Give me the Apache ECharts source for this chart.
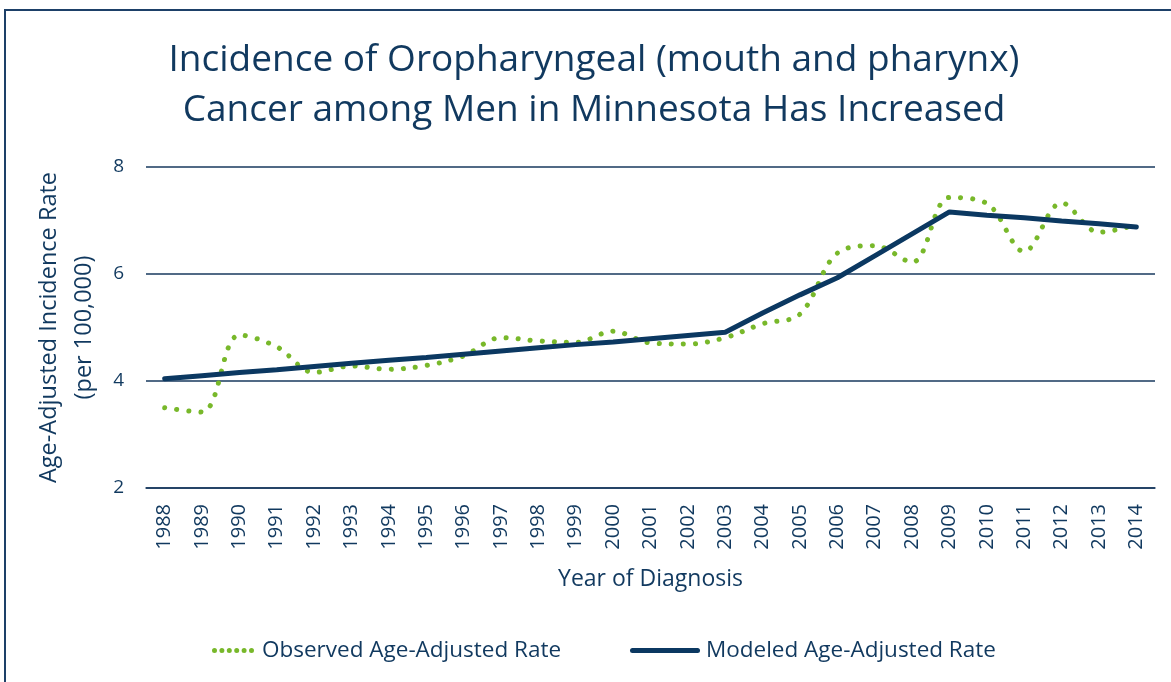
<!DOCTYPE html>
<html>
<head>
<meta charset="utf-8">
<script src="https://cdn.jsdelivr.net/npm/echarts@6/dist/echarts.min.js"></script>
<style>
  html, body { margin: 0; padding: 0; background: #fff; }
  #chart { width: 1171px; height: 682px; }
</style>
</head>
<body>
<div id="chart"></div>
<script>
// years on the x axis
var years = ['1988', '1989', '1990', '1991', '1992', '1993', '1994', '1995', '1996',
    '1997', '1998', '1999', '2000', '2001', '2002', '2003', '2004', '2005', '2006',
    '2007', '2008', '2009', '2010', '2011', '2012', '2013', '2014'];

// observed rate
var observed = [3.50, 3.42, 4.86, 4.64, 4.16, 4.28, 4.22, 4.29, 4.47,
    4.81, 4.75, 4.72, 4.93, 4.71, 4.69, 4.81, 5.07, 5.25, 6.39,
    6.53, 6.22, 7.43, 7.32, 6.42, 7.33, 6.78, 6.92];

// modeled rate (joinpoint segments)
var modeled = [4.04, 4.10, 4.16, 4.21, 4.27, 4.33, 4.39, 4.44, 4.50,
    4.56, 4.62, 4.68, 4.73, 4.79, 4.85, 4.91, 5.27, 5.61, 5.93,
    6.34, 6.75, 7.16, 7.10, 7.05, 6.99, 6.94, 6.88];

var yTicks = [2, 4, 6, 8];

var navy = '#11395f';
var green = '#78b82a';
var font = '"Open Sans", sans-serif';

// legend icons: a row of dots and a rounded bar
var dotIcon = 'path://M0,2.5a2.5,2.5 0 1,0 5,0a2.5,2.5 0 1,0 -5,0' +
    'M7.4,2.5a2.5,2.5 0 1,0 5,0a2.5,2.5 0 1,0 -5,0' +
    'M14.8,2.5a2.5,2.5 0 1,0 5,0a2.5,2.5 0 1,0 -5,0' +
    'M22.2,2.5a2.5,2.5 0 1,0 5,0a2.5,2.5 0 1,0 -5,0' +
    'M29.6,2.5a2.5,2.5 0 1,0 5,0a2.5,2.5 0 1,0 -5,0' +
    'M37,2.5a2.5,2.5 0 1,0 5,0a2.5,2.5 0 1,0 -5,0';
var barIcon = 'path://M2.5,0H67.5A2.5,2.5 0 0,1 67.5,5H2.5A2.5,2.5 0 0,1 2.5,0Z';

var chart = echarts.init(document.getElementById('chart'));

var option = {
    backgroundColor: '#fff',
    textStyle: { fontFamily: font },
    graphic: [{
        type: 'rect',
        shape: { x: 5, y: 10, width: 1200, height: 700 },
        style: { fill: 'none', stroke: '#1d4068', lineWidth: 2 },
        silent: true
    }],
    title: {
        text: 'Incidence of Oropharyngeal (mouth and pharynx)\nCancer among Men in Minnesota Has Increased',
        left: 589,
        top: 30,
        textAlign: 'center',
        textStyle: {
            color: navy,
            fontFamily: font,
            fontWeight: 'normal',
            fontSize: 37,
            lineHeight: 50
        }
    },
    legend: [{
        data: [{ name: 'Observed Age-Adjusted Rate', icon: dotIcon }],
        left: 207,
        top: 634,
        itemWidth: 42,
        itemHeight: 5,
        textStyle: { color: navy, fontSize: 22.5, fontFamily: font, padding: [0, 0, 0, 3] }
    }, {
        data: [{ name: 'Modeled Age-Adjusted Rate', icon: barIcon }],
        left: 625,
        top: 634,
        itemWidth: 70,
        itemHeight: 5,
        textStyle: { color: navy, fontSize: 22.5, fontFamily: font, padding: [0, 0, 0, 1] }
    }],
    grid: {
        left: 146,
        right: 16,
        top: 167,
        bottom: 194
    },
    xAxis: {
        type: 'category',
        data: years,
        boundaryGap: true,
        name: 'Year of Diagnosis',
        nameLocation: 'middle',
        nameGap: 80,
        nameTextStyle: { color: navy, fontSize: 23, fontFamily: font },
        axisLine: { lineStyle: { color: '#17395e', width: 1.5 } },
        axisTick: { show: false },
        axisLabel: {
            rotate: 90,
            interval: 0,
            color: navy,
            fontSize: 20,
            margin: 16
        }
    },
    yAxis: {
        type: 'value',
        min: yTicks[0],
        max: yTicks[yTicks.length - 1],
        interval: 2,
        name: 'Age-Adjusted Incidence Rate\n(per 100,000)',
        nameLocation: 'middle',
        nameRotate: 90,
        nameGap: 31,
        nameTextStyle: { color: navy, fontSize: 23.5, fontFamily: font, lineHeight: 35 },
        axisLine: { show: false },
        axisTick: { show: false },
        axisLabel: { color: navy, fontSize: 19, margin: 22 },
        splitLine: { lineStyle: { color: '#17395e', width: 1.5 } }
    },
    series: [{
        name: 'Observed Age-Adjusted Rate',
        type: 'line',
        data: observed,
        smooth: 0.35,
        symbol: 'none',
        lineStyle: {
            color: green,
            width: 5,
            type: [0.1, 12],
            cap: 'round'
        },
        itemStyle: { color: green },
        z: 3
    }, {
        name: 'Modeled Age-Adjusted Rate',
        type: 'line',
        data: modeled,
        symbol: 'none',
        lineStyle: {
            color: '#0b3861',
            width: 5,
            cap: 'round'
        },
        itemStyle: { color: '#0b3861' },
        z: 4
    }]
};

chart.setOption(option);
</script>
</body>
</html>
